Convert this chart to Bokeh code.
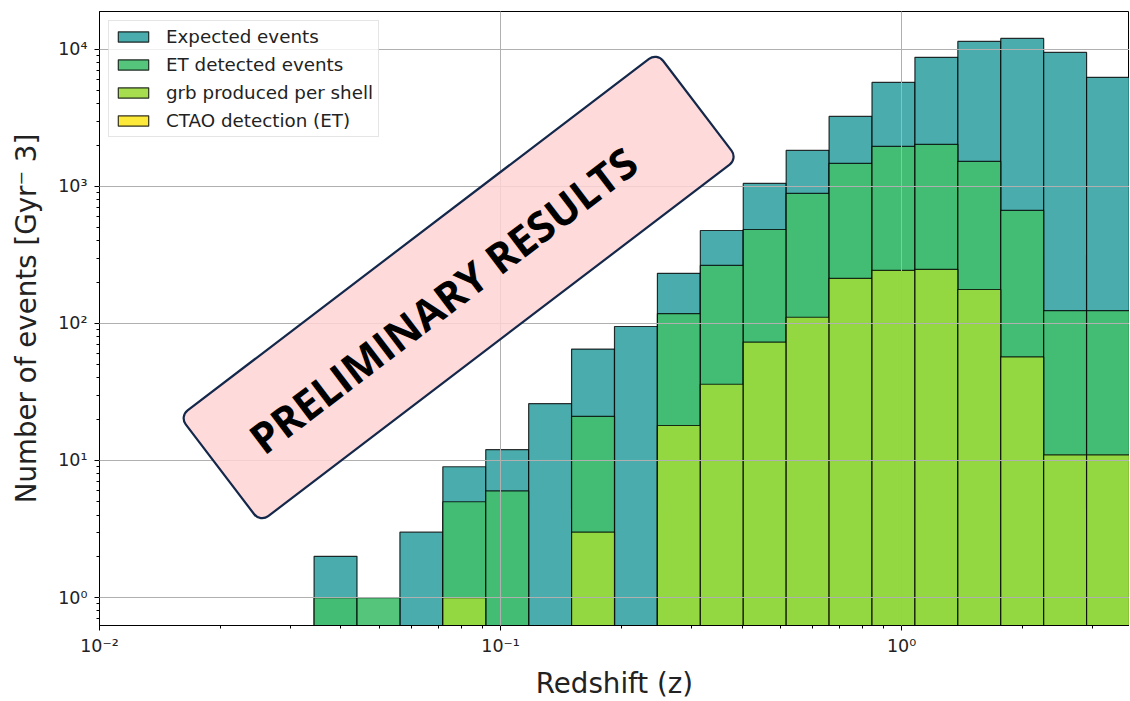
import numpy as np
from bokeh.plotting import figure
from bokeh.models import (ColumnDataSource, Range1d, Legend, LegendItem, Label,
                          CustomJSTickFormatter)
from bokeh.embed import file_html
from bokeh.resources import INLINE

# ---------------- data ----------------
z_min, z_max, n_bins = 0.01, 3.7, 24
bin_edges = np.logspace(np.log10(z_min), np.log10(z_max), n_bins + 1)

expected_events = [0, 0, 0, 0, 0, 2, 0, 3, 9, 12, 26, 65, 95, 232, 477, 1052,
                   1832, 3243, 5740, 8745, 11440, 12030, 9510, 6250]
et_detected = [0, 0, 0, 0, 0, 1, 1, 0, 5, 6, 0, 21, 0, 118, 265, 485,
               889, 1472, 1959, 2027, 1522, 668, 124, 124]
grb_per_shell = [0, 0, 0, 0, 0, 0, 0, 0, 1, 0, 0, 3, 0, 18, 36, 73,
                 111, 213, 244, 248, 177, 57, 11, 11]
ctao_detection = [0] * n_bins

series_names = ["Expected events", "ET detected events",
                "grb produced per shell", "CTAO detection (ET)"]
series_values = [expected_events, et_detected, grb_per_shell, ctao_detection]
series_colors = ["#36a3a3", "#43bf6e", "#9cda3c", "#fde725"]

FONT = "DejaVu Sans"
FLOOR = 1e-3  # bottom of the bars (below the visible range)

p = figure(x_axis_type="log", y_axis_type="log",
           x_range=Range1d(z_min, z_max), y_range=Range1d(0.625, 18900),
           frame_width=1030, frame_height=614,
           min_border_left=99, min_border_right=0, min_border_top=11, min_border_bottom=75,
           output_backend="svg", toolbar_location=None)

items = []
for name, vals, col in zip(series_names, series_values, series_colors):
    v = np.array(vals, dtype=float)
    src = ColumnDataSource(dict(left=bin_edges[:-1], right=bin_edges[1:],
                                top=np.where(v > 0, v, FLOOR),
                                bottom=np.full(len(v), FLOOR)))
    r = p.quad(left="left", right="right", top="top", bottom="bottom", source=src,
               fill_color=col, fill_alpha=0.9, line_color="black", line_alpha=0.8,
               line_width=1.2)
    items.append(LegendItem(label=name, renderers=[r], index=0))

legend = Legend(items=items, location="top_left", margin=9,
                label_text_font=FONT, label_text_font_size="18.3px", label_text_color="#222222",
                glyph_width=38, glyph_height=13, label_height=20, spacing=7,
                padding=5, label_standoff=14,
                border_line_color="#cccccc", border_line_width=1,
                background_fill_alpha=0.8)
p.add_layout(legend)

# annotation
lab = Label(x=0.0786, y=183.0, text="PRELIMINARY RESULTS",
            angle=37.3, angle_units="deg",
            text_align="center", text_baseline="middle",
            text_font="Open Sans", text_font_style="bold", text_font_size="42px",
            text_color="black",
            background_fill_color="#ffd3d3", background_fill_alpha=0.85,
            border_line_color="#14284b", border_line_width=2.2,
            padding=dict(left=43, right=83, top=38, bottom=38), border_radius=10)
p.add_layout(lab)

fmt = CustomJSTickFormatter(code="""
const sup = {'-':'\u207b','0':'\u2070','1':'\u00b9','2':'\u00b2','3':'\u00b3','4':'\u2074',
             '5':'\u2075','6':'\u2076','7':'\u2077','8':'\u2078','9':'\u2079'};
const e = Math.round(Math.log10(tick));
return '10' + String(e).split('').map(c => sup[c]).join('');
""")

for ax in (p.xaxis[0], p.yaxis[0]):
    ax.formatter = fmt
    ax.major_label_text_font = FONT
    ax.major_label_text_font_size = "17.5px"
    ax.major_label_text_color = "#222222"
    ax.axis_label_text_font = FONT
    ax.axis_label_text_font_size = "27.7px"
    ax.axis_label_text_font_style = "normal"
    ax.axis_label_text_color = "#222222"
    ax.major_tick_in = 0
    ax.major_tick_out = 5
    ax.minor_tick_in = 0
    ax.minor_tick_out = 3
    ax.axis_line_color = "black"
    ax.major_tick_line_color = "black"
    ax.minor_tick_line_color = "black"

p.xaxis.axis_label = "Redshift (z)"
p.yaxis.axis_label = "Number of events [Gyr\u207b 3]"
p.xaxis.major_label_standoff = 5
p.yaxis.major_label_standoff = 7
p.xaxis.axis_label_standoff = 8
p.yaxis.axis_label_standoff = 12

for g in (p.xgrid[0], p.ygrid[0]):
    g.grid_line_color = "#b0b0b0"
    g.grid_line_width = 1
    g.level = "guide"

p.outline_line_color = "black"
p.outline_line_width = 1
p.background_fill_color = "white"
p.border_fill_color = "white"

open("out.html", "w").write(file_html(p, INLINE))
